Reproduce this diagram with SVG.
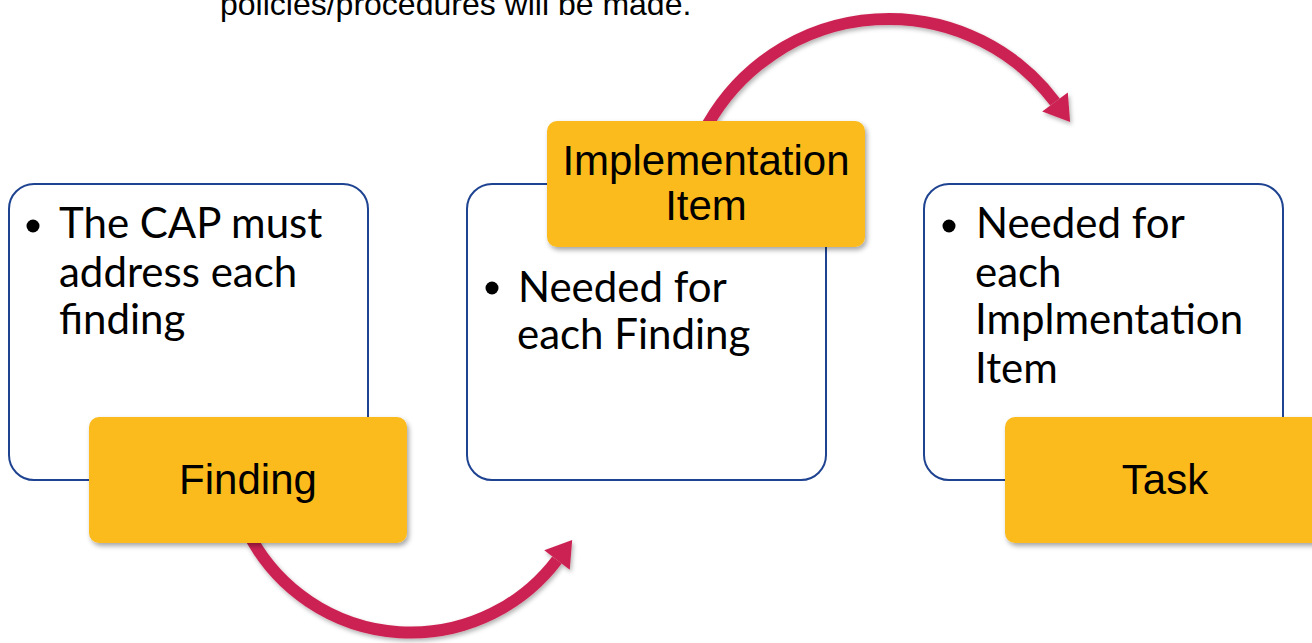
<svg xmlns="http://www.w3.org/2000/svg" width="1312" height="643" viewBox="0 0 1312 643">
  <defs>
    <filter id="shadow" x="-10%" y="-10%" width="125%" height="135%">
      <feDropShadow dx="2" dy="3" stdDeviation="2.5" flood-color="#000" flood-opacity="0.35"/>
    </filter>
    <filter id="arcShadow" x="-10%" y="-10%" width="125%" height="135%">
      <feDropShadow dx="1.5" dy="2.5" stdDeviation="2" flood-color="#000" flood-opacity="0.3"/>
    </filter>
    <marker id="head" markerUnits="userSpaceOnUse" markerWidth="30" markerHeight="32" refX="0" refY="14" orient="auto" viewBox="0 0 24 28">
      <path d="M0,0 L22,14 L0,28 Z" fill="#CC2452"/>
    </marker>
  </defs>
  <style>
    .panel { fill: #FFFFFF; stroke: #1E4391; stroke-width: 2; }
    .tag { fill: #FCBB1E; }
    .body { font-family: "Lato", "Open Sans", sans-serif; font-size: 42px; fill: #000; }
    .label { font-family: "Liberation Sans", Arial, sans-serif; font-size: 42px; fill: #000; text-anchor: middle; }
    .bullet { fill: #000; }
    .arc { fill: none; stroke: #CC2452; stroke-width: 12; }
  </style>

  <!-- heading fragment at the top edge -->
  <text x="220" y="15" font-family="Liberation Sans, Arial, sans-serif" font-size="32" fill="#000">policies/procedures will be made.</text>

  <!-- outlined panels -->
  <g id="panel-finding">
    <rect class="panel" x="9" y="184" width="359" height="296" rx="25"/>
    <circle class="bullet" cx="33" cy="226" r="6.5"/>
    <text class="body" x="59" y="238">The CAP must</text>
    <text class="body" x="59" y="287">address each</text>
    <text class="body" x="59" y="334">finding</text>
  </g>
  <g id="panel-implementation">
    <rect class="panel" x="467" y="184" width="359" height="296" rx="25"/>
    <circle class="bullet" cx="492" cy="288" r="6.5"/>
    <text class="body" x="518" y="302">Needed for</text>
    <text class="body" x="517" y="349">each Finding</text>
  </g>
  <g id="panel-task">
    <rect class="panel" x="924" y="184" width="359" height="296" rx="25"/>
    <circle class="bullet" cx="949" cy="226" r="6.5"/>
    <text class="body" x="976" y="238">Needed for</text>
    <text class="body" x="975" y="287">each</text>
    <text class="body" x="975" y="334">Implmentation</text>
    <text class="body" x="975" y="383">Item</text>
  </g>

  <!-- curved connectors -->
  <g id="connectors" filter="url(#arcShadow)">
    <path class="arc" d="M252,540 A183,183 0 0 0 557,560" marker-end="url(#head)"/>
    <path class="arc" d="M708,124 A208,208 0 0 1 1055,102" marker-end="url(#head)"/>
  </g>

  <!-- yellow title tags -->
  <g id="tag-finding">
    <rect class="tag" x="89" y="417" width="318" height="126" rx="10" filter="url(#shadow)"/>
    <text class="label" x="248" y="494">Finding</text>
  </g>
  <g id="tag-implementation">
    <rect class="tag" x="547" y="121" width="318" height="126" rx="10" filter="url(#shadow)"/>
    <text class="label" x="706" y="175">Implementation</text>
    <text class="label" x="706" y="220">Item</text>
  </g>
  <g id="tag-task">
    <rect class="tag" x="1005" y="417" width="318" height="126" rx="10" filter="url(#shadow)"/>
    <text class="label" x="1165" y="494">Task</text>
  </g>
</svg>
